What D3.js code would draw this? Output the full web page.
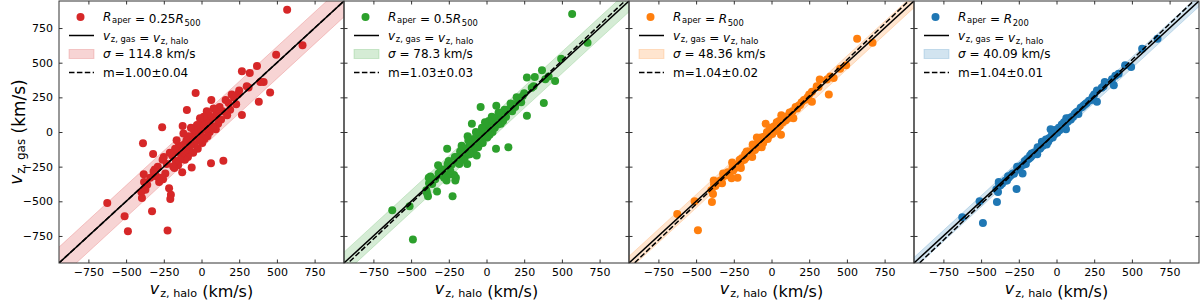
<!DOCTYPE html>
<html>
<head>
<meta charset="utf-8">
<script src="https://d3js.org/d3.v7.min.js"></script>
<style>
  body { margin: 0; background: #fff; }
  svg { font-family: "DejaVu Sans", sans-serif; }
  svg text { white-space: pre; }
  .tick text { fill: #000; }
</style>
</head>
<body>
<div id="chart"></div>
<script>
// halo line-of-sight velocities (km/s), shared by all four apertures
var haloV = [670, 568, 495, 455, 412, 390, 380, 368, 320, 312, 300, 268, 268, 250, 240, 230, 215, 200, 190, 180,
  170, 160, 145, 140, 130, 120, 110, 100, 95, 90, 80, 75, 65, 63, 60, 55, 50, 45, 40, 35,
  30, 25, 20, 15, 10, 5, 0, -5, -10, -15, -20, -25, -30, -39, -40, -45, -50, -55, -60, -65,
  -70, -75, -80, -85, -90, -97, -100, -105, -110, -115, -120, -125, -128, -135, -143, -150, -155, -160, -165, -170,
  -175, -180, -188, -195, -203, -207, -210, -215, -225, -230, -240, -250, -255, -258, -261, -265, -281, -290, -300, -310,
  -321, -318, -328, -340, -360, -372, -381, -383, -388, -399, -395, -488, -510, -625];

// gas velocities for each aperture
var gas025 = [625, 881, 558, 285, 361, 361, 218, 476, 426, 321, 330, 438, 122, 300, 270, 200, 250, 270, 160, 210,
  120, 230, -208, 150, 90, 180, 60, 140, 20, 110, 170, 40, 230, -225, 90, 0, 120, 60, -30, 150,
  20, 80, -50, 110, 30, -80, 60, -10, 100, -60, 20, -120, 50, 282, -20, -90, 10, -150, -40, -256,
  30, -100, -150, -30, -180, 158, -60, -130, -200, -90, -10, 43, -290, -160, -201, -100, -240, -140, -60, -210,
  -120, -260, -249, -170, -452, -483, -150, -405, -711, -230, -300, -180, -340, -201, 34, -330, -361, -250, -320, -270,
  -158, -285, -572, -330, -380, -416, -361, -304, -81, -433, -476, -716, -608, -512];
var gas05 = [644, 852, 529, 368, 400, 380, 210, 445, 397, 330, 320, 393, 117, 280, 260, 215, 240, 250, 180, 200,
  150, 205, -110, 160, 110, 160, 80, 120, 60, 100, 140, 55, 190, -120, 80, 30, 100, 55, 0, 110,
  25, 60, -20, 80, 20, -40, 45, -5, 70, -40, 10, -80, 30, 180, -30, -70, -20, -110, -50, -170,
  0, -90, -120, -50, -140, 60, -80, -120, -160, -100, -60, -30, -230, -150, -180, -120, -200, -150, -100, -195,
  -140, -230, -220, -180, -330, -350, -180, -310, -464, -235, -280, -210, -310, -230, -120, -350, -330, -270, -310, -290,
  -240, -300, -430, -340, -375, -321, -370, -330, -464, -420, -440, -775, -536, -565];
var gasR500 = [644, 672, 481, 457, 390, 400, 270, 378, 378, 325, 330, 290, 218, 270, 250, 235, 230, 215, 195, 190,
  170, 180, 100, 150, 130, 140, 100, 110, 85, 95, 110, 70, 120, -20, 70, 45, 80, 50, 25, 70,
  30, 40, 5, 40, 15, -15, 20, -5, 30, -25, -10, -50, 0, 60, -40, -55, -35, -80, -60, -110,
  -40, -80, -95, -70, -110, -40, -95, -115, -130, -110, -100, -90, -180, -145, -160, -140, -175, -160, -140, -185,
  -160, -200, -200, -190, -260, -240, -200, -250, -330, -240, -260, -240, -280, -255, -220, -333, -310, -290, -310, -310,
  -300, -320, -370, -350, -370, -390, -380, -350, -447, -420, -505, -708, -500, -591];
var gasR200 = [672, 600, 469, 481, 420, 405, 337, 380, 361, 330, 320, 300, 218, 270, 255, 230, 225, 210, 200, 192,
  180, 175, 130, 148, 140, 130, 110, 108, 90, 98, 100, 75, 100, 20, 65, 50, 70, 48, 35, 55,
  32, 35, 12, 30, 12, -5, 10, -6, 15, -20, -15, -40, -20, 20, -42, -50, -45, -70, -62, -90,
  -55, -78, -88, -80, -100, -70, -100, -112, -120, -116, -115, -110, -160, -142, -155, -150, -165, -165, -155, -180,
  -170, -190, -196, -195, -230, -215, -210, -235, -300, -240, -252, -255, -270, -262, -250, -412, -300, -300, -310, -320,
  -320, -330, -350, -352, -372, -385, -390, -360, -433, -415, -505, -656, -500, -615];

var apertures = ["0.25", "0.5", "", ""];
var radii = ["500", "500", "500", "200"];
var colors = ["#d62728", "#2ca02c", "#ff7f0e", "#1f77b4"];
var sigmas = [114.8, 78.3, 48.36, 40.09];
var sigmaLabels = ["114.8", "78.3", "48.36", "40.09"];
var slopes = [1.00, 1.03, 1.04, 1.04];
var slopeLabels = ["m=1.00±0.04", "m=1.03±0.03", "m=1.04±0.02", "m=1.04±0.01"];
var gasSets = [gas025, gas05, gasR500, gasR200];
var tickValues = [-750, -500, -250, 0, 250, 500, 750];

(function () {
var W = 1200, H = 300;
var padL = 59, padT = 1, pw = 285, ph = 262;
var lim = 945;

var svg = d3.select("#chart").append("svg")
  .attr("width", W).attr("height", H);

var x = d3.scaleLinear().domain([-lim, lim]).range([0, pw]);
var y = d3.scaleLinear().domain([-lim, lim]).range([ph, 0]);

svg.append("defs").append("clipPath").attr("id", "clip")
  .append("rect").attr("width", pw).attr("height", ph);

// italic symbol with an upright subscript, mathtext style
function addSub(t, main, sub) {
  t.append("tspan").attr("font-style", "italic").text(main);
  t.append("tspan").attr("font-size", "0.7em").attr("dx", "0.08em").attr("dy", "0.28em").text(sub);
  t.append("tspan").attr("dy", "-0.28em").text("");
}
function minus(d) { return d < 0 ? "\u2212" + Math.abs(d) : String(d); }

for (var i = 0; i < 4; i++) {
  var g = svg.append("g").attr("transform", "translate(" + (padL + i * pw) + "," + padT + ")");
  var plot = g.append("g").attr("clip-path", "url(#clip)");
  var col = colors[i];
  var s = sigmas[i];

  // sigma band around one-to-one line
  var band = d3.area()
    .x(function (d) { return x(d); })
    .y0(function (d) { return y(d - s); })
    .y1(function (d) { return y(d + s); });
  plot.append("path").datum([-lim * 1.2, lim * 1.2])
    .attr("d", band)
    .attr("fill", col).attr("fill-opacity", 0.2)
    .attr("stroke", col).attr("stroke-opacity", 0.2).attr("stroke-width", 1);

  // points
  var pts = haloV.map(function (h, k) { return [h, gasSets[i][k]]; });
  plot.selectAll(".pt").data(pts).enter().append("circle")
    .attr("class", "pt")
    .attr("cx", function (d) { return x(d[0]); })
    .attr("cy", function (d) { return y(d[1]); })
    .attr("r", 4)
    .attr("fill", col);

  // one-to-one line
  plot.append("line")
    .attr("x1", x(-lim)).attr("y1", y(-lim))
    .attr("x2", x(lim)).attr("y2", y(lim))
    .attr("stroke", "#000").attr("stroke-width", 1.5);

  // fitted slope
  var m = slopes[i];
  plot.append("line")
    .attr("x1", x(-lim)).attr("y1", y(-lim * m))
    .attr("x2", x(lim)).attr("y2", y(lim * m))
    .attr("stroke", "#000").attr("stroke-width", 1.5)
    .attr("stroke-dasharray", "5.5,2.4");

  // axes, ticks pointing inward on every side
  var ax = g.append("g").attr("transform", "translate(0," + ph + ")")
    .call(d3.axisBottom(x).tickValues(tickValues).tickSizeInner(-3.5).tickSizeOuter(0).tickPadding(5).tickFormat(minus));
  var axT = g.append("g")
    .call(d3.axisTop(x).tickValues(tickValues).tickSizeInner(-3.5).tickSizeOuter(0).tickFormat(""));
  var ayL = g.append("g")
    .call(d3.axisLeft(y).tickValues(tickValues).tickSizeInner(-3.5).tickSizeOuter(0).tickPadding(6)
      .tickFormat(i === 0 ? minus : function () { return ""; }));
  var ayR = g.append("g").attr("transform", "translate(" + pw + ",0)")
    .call(d3.axisRight(y).tickValues(tickValues).tickSizeInner(-3.5).tickSizeOuter(0).tickFormat(""));
  [ax, axT, ayL, ayR].forEach(function (a) {
    a.select(".domain").remove();
    a.selectAll(".tick line").attr("stroke", "#333");
    a.selectAll(".tick text").attr("font-size", 11).attr("font-family", "DejaVu Sans");
  });

  g.append("rect").attr("width", pw).attr("height", ph)
    .attr("fill", "none").attr("stroke", "#333").attr("stroke-width", 1);

  // x label
  var xl = g.append("text").attr("x", pw / 2).attr("y", ph + 31)
    .attr("text-anchor", "middle").attr("font-size", 16);
  addSub(xl, "v", "z, halo");
  xl.append("tspan").text(" (km/s)");

  // legend
  var lg = g.append("g").attr("font-size", 12);
  var rows = [16, 34.5, 53, 71.5];
  lg.append("circle").attr("cx", 21.5).attr("cy", rows[0]).attr("r", 4).attr("fill", col);
  var t1 = lg.append("text").attr("x", 44).attr("y", rows[0] + 4);
  addSub(t1, "R", "aper");
  t1.append("tspan").text(" = " + apertures[i]);
  addSub(t1, "R", radii[i]);

  lg.append("line").attr("x1", 10).attr("x2", 35).attr("y1", rows[1]).attr("y2", rows[1])
    .attr("stroke", "#000").attr("stroke-width", 1.5);
  var t2 = lg.append("text").attr("x", 44).attr("y", rows[1] + 4);
  addSub(t2, "v", "z, gas");
  t2.append("tspan").text(" = ");
  addSub(t2, "v", "z, halo");

  lg.append("rect").attr("x", 10).attr("y", rows[2] - 4.5).attr("width", 25).attr("height", 9)
    .attr("fill", col).attr("fill-opacity", 0.2).attr("stroke", col).attr("stroke-opacity", 0.2);
  var t3 = lg.append("text").attr("x", 44).attr("y", rows[2] + 4);
  t3.append("tspan").attr("font-style", "italic").text("\u03c3");
  t3.append("tspan").text(" = " + sigmaLabels[i] + " km/s");

  lg.append("line").attr("x1", 10).attr("x2", 35).attr("y1", rows[3]).attr("y2", rows[3])
    .attr("stroke", "#000").attr("stroke-width", 1.5).attr("stroke-dasharray", "5.5,2.4");
  lg.append("text").attr("x", 44).attr("y", rows[3] + 4).text(slopeLabels[i]);
}

// y label
var yl = svg.append("text")
  .attr("transform", "translate(22," + (padT + ph / 2) + ") rotate(-90)")
  .attr("text-anchor", "middle").attr("font-size", 17);
addSub(yl, "v", "z, gas");
yl.append("tspan").text(" (km/s)");
})();
</script>
</body>
</html>
